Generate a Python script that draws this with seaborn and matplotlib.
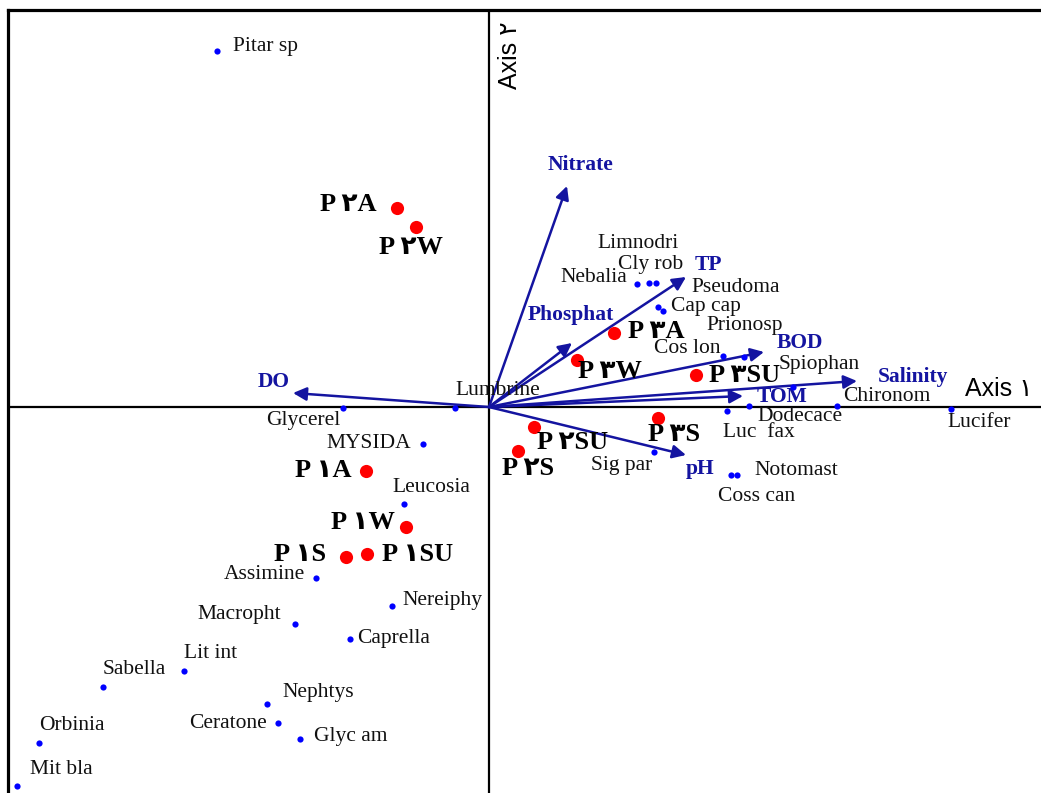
import matplotlib
matplotlib.use("Agg")
import matplotlib.pyplot as plt
import pandas as pd
import seaborn as sns

# CCA biplot scores (axis 1, axis 2)
species_names = [
    "Pitar sp", "Limnodri", "Cly rob", "Nebalia", "Pseudoma", "Cap cap",
    "Prionosp", "Cos lon", "Spiophan", "Chironom", "Lucifer", "Dodecace",
    "Luc  fax", "Sig par", "Notomast", "Coss can", "Lumbrine", "Glycerel",
    "MYSIDA", "Leucosia", "Assimine", "Nereiphy", "Macropht", "Caprella",
    "Lit int", "Sabella", "Nephtys", "Ceratone", "Glyc am", "Orbinia", "Mit bla",
]
species_x = [
    -1.36, 0.835, 0.80, 0.74, 0.87, 0.845,
    1.275, 1.17, 1.52, 1.74, 2.31, 1.30,
    1.19, 0.825, 1.24, 1.21, -0.17, -0.73,
    -0.33, -0.425, -0.865, -0.485, -0.97, -0.695,
    -1.525, -1.93, -1.11, -1.055, -0.945, -2.25, -2.36,
]
species_y = [
    1.78, 0.62, 0.62, 0.615, 0.48, 0.50,
    0.25, 0.255, 0.10, 0.005, -0.01, 0.005,
    -0.02, -0.225, -0.34, -0.34, -0.005, -0.005,
    -0.185, -0.485, -0.855, -0.995, -1.085, -1.16,
    -1.32, -1.40, -1.485, -1.58, -1.66, -1.68, -1.895,
]

site_names = [
    "P\u06f1A", "P\u06f1W", "P\u06f1S", "P\u06f1SU",
    "P\u06f2A", "P\u06f2W", "P\u06f2S", "P\u06f2SU",
    "P\u06f3A", "P\u06f3W", "P\u06f3S", "P\u06f3SU",
]
site_x = [-0.615, -0.415, -0.715, -0.61, -0.46, -0.365, 0.145, 0.225, 0.625, 0.44, 0.845, 1.035]
site_y = [-0.32, -0.60, -0.75, -0.735, 0.995, 0.90, -0.22, -0.10, 0.37, 0.235, -0.055, 0.16]

env_names = ["Nitrate", "TP", "Phosphat", "BOD", "Salinity", "TOM", "pH", "DO"]
env_x = [0.39, 0.985, 0.415, 1.375, 1.84, 1.27, 0.985, -0.98]
env_y = [1.105, 0.65, 0.32, 0.275, 0.13, 0.055, -0.24, 0.07]

# label placement: name -> (dx px, dy px, ha)
SPECIES_OFFSETS = {
    "Pitar sp": (16, 4, "left"), "Limnodri": (-18, 39, "center"),
    "Cly rob": (2, 18, "center"), "Nebalia": (-10, 6, "right"),
    "Pseudoma": (28, 23, "left"), "Cap cap": (13, 0, "left"),
    "Prionosp": (1, 31, "center"), "Cos lon": (-2, 7, "right"),
    "Spiophan": (-14, 22, "left"), "Chironom": (6, 9, "left"),
    "Lucifer": (-4, -14, "left"), "Dodecace": (8, -11, "left"),
    "Luc  fax": (-4, -22, "left"), "Sig par": (-2, -14, "right"),
    "Notomast": (17, 4, "left"), "Coss can": (-13, -22, "left"),
    "Lumbrine": (0, 17, "left"), "Glycerel": (-3, -13, "right"),
    "MYSIDA": (-12, 0, "right"), "Leucosia": (-12, 16, "left"),
    "Assimine": (-11, 3, "right"), "Nereiphy": (10, 5, "left"),
    "Macropht": (-14, 9, "right"), "Caprella": (7, 0, "left"),
    "Lit int": (0, 17, "left"), "Sabella": (0, 17, "left"),
    "Nephtys": (15, 11, "left"), "Ceratone": (-11, 0, "right"),
    "Glyc am": (14, 3, "left"), "Orbinia": (0, 17, "left"),
    "Mit bla": (13, 17, "left"),
}
SITE_OFFSETS = {
    "P\u06f1A": (-14, 0, "right"), "P\u06f1W": (-11, 4, "right"),
    "P\u06f1S": (-20, 2, "right"), "P\u06f1SU": (15, -1, "left"),
    "P\u06f2A": (-20, 3, "right"), "P\u06f2W": (-5, -21, "center"),
    "P\u06f2S": (10, -18, "center"), "P\u06f2SU": (3, -16, "left"),
    "P\u06f3A": (14, 1, "left"), "P\u06f3W": (1, -12, "left"),
    "P\u06f3S": (16, -17, "center"), "P\u06f3SU": (13, -1, "left"),
}
ENV_OFFSETS = {
    "Nitrate": (-19, 21, "left"), "TP": (9, 12, "left"),
    "Phosphat": (-44, 28, "left"), "BOD": (13, 9, "left"),
    "Salinity": (21, 4, "left"), "TOM": (14, -1, "left"),
    "pH": (0, -14, "left"), "DO": (-35, 11, "left"),
}

ARROW_COLOR = "#1414a0"
SERIF = ["Liberation Serif", "DejaVu Sans"]
SANS = ["Liberation Sans", "DejaVu Sans"]

sns.set_style("white")
plt.rcParams["font.family"] = SERIF

species = pd.DataFrame({"name": species_names, "x": species_x, "y": species_y})
sites = pd.DataFrame({"name": site_names, "x": site_x, "y": site_y})
env = pd.DataFrame({"name": env_names, "x": env_x, "y": env_y})

fig = plt.figure(figsize=(10.41, 7.93), dpi=100)
# frame runs past the right and bottom edges of the picture
ax = fig.add_axes([8 / 1041, 1 - 810 / 793, 1052 / 1041, 800 / 793])
ax.set_xlim(-2.405, 2.855)
ax.set_ylim(-2.015, 1.985)
ax.set_xticks([])
ax.set_yticks([])
for side in ["top", "left", "right", "bottom"]:
    ax.spines[side].set_linewidth(2.3)
    ax.spines[side].set_color("black")

ax.axhline(0, color="black", lw=1.6, zorder=1)
ax.axvline(0, color="black", lw=1.6, zorder=1)

# environmental arrows
for _, row in env.iterrows():
    ax.annotate(
        "", xy=(row.x, row.y), xytext=(0, 0),
        arrowprops=dict(arrowstyle="-|>", color=ARROW_COLOR, lw=1.8,
                        mutation_scale=20, shrinkA=0, shrinkB=0),
        zorder=2,
    )
    dx, dy, ha = ENV_OFFSETS[row["name"]]
    ax.annotate(row["name"], (row.x, row.y), xytext=(dx, dy),
                textcoords="offset pixels", ha=ha, va="center",
                fontsize=15.5, fontweight="bold", color=ARROW_COLOR,
                family=SERIF)

sns.scatterplot(data=species, x="x", y="y", color="blue", s=20,
                linewidth=0, ax=ax, zorder=3)
sns.scatterplot(data=sites, x="x", y="y", color="red", s=90,
                linewidth=0, ax=ax, zorder=3)
ax.set_xlabel("")
ax.set_ylabel("")

for _, row in species.iterrows():
    dx, dy, ha = SPECIES_OFFSETS[row["name"]]
    ax.annotate(row["name"], (row.x, row.y), xytext=(dx, dy),
                textcoords="offset pixels", ha=ha, va="center",
                fontsize=15.5, color="#111111", family=SERIF)

for _, row in sites.iterrows():
    dx, dy, ha = SITE_OFFSETS[row["name"]]
    # thin gap between the letter and the Persian digit, as in the source
    label = row["name"][0] + "\u2009" + row["name"][1:]
    ax.annotate(label, (row.x, row.y), xytext=(dx, dy),
                textcoords="offset pixels", ha=ha, va="center",
                fontsize=19, fontweight="bold", color="black", family=SERIF)

ax.text(2.38, 0.09, "Axis \u06f1", ha="left", va="center",
        fontsize=18, family=SANS, color="black")
ax.text(0.105, 1.76, "Axis \u06f2", ha="center", va="center", rotation=90,
        fontsize=18, family=SANS, color="black")

fig.savefig("out.png", dpi=100)
